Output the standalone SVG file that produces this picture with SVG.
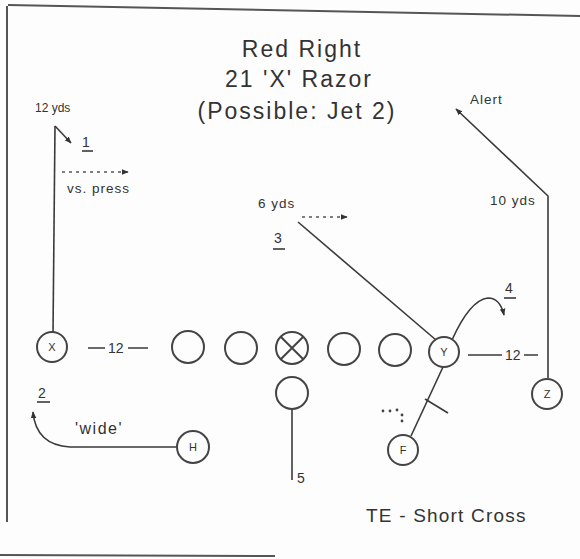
<svg xmlns="http://www.w3.org/2000/svg" width="580" height="559" viewBox="0 0 580 559">
<defs>
<marker id="ah" viewBox="0 0 10 10" refX="9" refY="5" markerWidth="7" markerHeight="7" orient="auto" markerUnits="userSpaceOnUse">
<path d="M0,1 L10,5 L0,9 Z" fill="#333"/>
</marker>
</defs>
<style>
.p{fill:none;stroke:#444;stroke-width:2}
.l{fill:none;stroke:#3a3a3a;stroke-width:1.6}
.d{fill:none;stroke:#555;stroke-width:1.4;stroke-dasharray:3,4}
.t{font-family:"Liberation Sans",Arial,sans-serif;fill:#333}
.ti{font-size:23px;text-anchor:middle;letter-spacing:2px}
.s{font-size:13.5px;letter-spacing:1px}
.m{font-size:14px}
.c{font-size:11px;text-anchor:middle}
</style>
<rect width="580" height="559" fill="#fdfdfd"/>
<g id="frame" fill="none" stroke="#555" stroke-width="2">
<path d="M8,5 L580,16"/>
<path d="M7,6 L7,522"/>
<path d="M0,555 L275,556"/>
</g>
<g id="title" class="t ti">
<text x="302" y="57">Red Right</text>
<text x="299" y="87">21 'X' Razor</text>
<text x="297" y="119">(Possible: Jet 2)</text>
</g>
<g id="connectors">
<path class="l" d="M53,333 L55,126" />
<path class="l" d="M55,126 L71,143" marker-end="url(#ah)"/>
<path class="d" d="M62,172 L128,172" marker-end="url(#ah)"/>
<path class="l" d="M436,340 L298,222"/>
<path class="d" d="M302,217 L347,217" marker-end="url(#ah)"/>
<path class="l" d="M452,340 Q470,300 488,298 Q500,298 504,315" marker-end="url(#ah)"/>
<path class="l" d="M548,378 L548,196 L456,109" marker-end="url(#ah)"/>
<path class="l" d="M292,409 L292,480"/>
<path class="l" d="M411,436 L443,367"/>
<path class="l" d="M425,399 L448,413"/>
<path class="l" d="M176,447 L70,447 Q36,445 33,412" marker-end="url(#ah)"/>
<path class="l" d="M88,348 L105,348 M128,348 L148,348"/>
<path class="l" d="M468,355 L502,355 M524,355 L538,355"/>
</g>
<g id="dots" fill="#444">
<circle cx="383" cy="411" r="1.4"/><circle cx="390" cy="411" r="1.4"/><circle cx="397" cy="410" r="1.4"/><circle cx="402" cy="415" r="1.4"/><circle cx="402" cy="421" r="1.4"/>
</g>
<g id="node-X"><circle class="p" cx="52" cy="347" r="15"/><text class="t c" x="52" y="351">X</text></g>
<g id="node-L1"><circle class="p" cx="188" cy="347" r="16"/></g>
<g id="node-L2"><circle class="p" cx="241" cy="348" r="16"/></g>
<g id="node-C"><circle class="p" cx="292" cy="348" r="16"/><path class="p" d="M281,337 L303,359 M303,337 L281,359"/></g>
<g id="node-L4"><circle class="p" cx="344" cy="349" r="16"/></g>
<g id="node-L5"><circle class="p" cx="395" cy="350" r="16"/></g>
<g id="node-Y"><circle class="p" cx="444" cy="352" r="15"/><text class="t c" x="444" y="356">Y</text></g>
<g id="node-Z"><circle class="p" cx="547" cy="394" r="15"/><text class="t c" x="547" y="398">Z</text></g>
<g id="node-B"><circle class="p" cx="292" cy="393" r="16"/></g>
<g id="node-F"><circle class="p" cx="403" cy="450" r="15"/><text class="t c" x="403" y="454">F</text></g>
<g id="node-H"><circle class="p" cx="193" cy="447" r="16"/><text class="t c" x="193" y="451">H</text></g>
<g id="labels" class="t">
<text class="t" font-size="12" x="35" y="112">12 yds</text>
<text class="m" x="82" y="147">1</text><path class="l" d="M82,151 L93,151"/>
<text class="s" x="67" y="193">vs. press</text>
<text class="s" x="258" y="208">6 yds</text>
<text class="m" x="274" y="243">3</text><path class="l" d="M273,249 L285,249"/>
<text class="m" x="505" y="293">4</text><path class="l" d="M504,298 L516,298"/>
<text class="s" x="470" y="104">Alert</text>
<text class="s" x="490" y="205">10 yds</text>
<text class="m" x="108" y="353">12</text>
<text class="m" x="505" y="360">12</text>
<text class="m" x="38" y="398">2</text><path class="l" d="M37,402 L50,402"/>
<text class="t" font-size="16" x="75" y="434" letter-spacing="1.5">'wide'</text>
<text class="m" x="297" y="483">5</text>
<text class="t" x="366" y="522" font-size="19" letter-spacing="1.2">TE - Short Cross</text>
</g>
</svg>
